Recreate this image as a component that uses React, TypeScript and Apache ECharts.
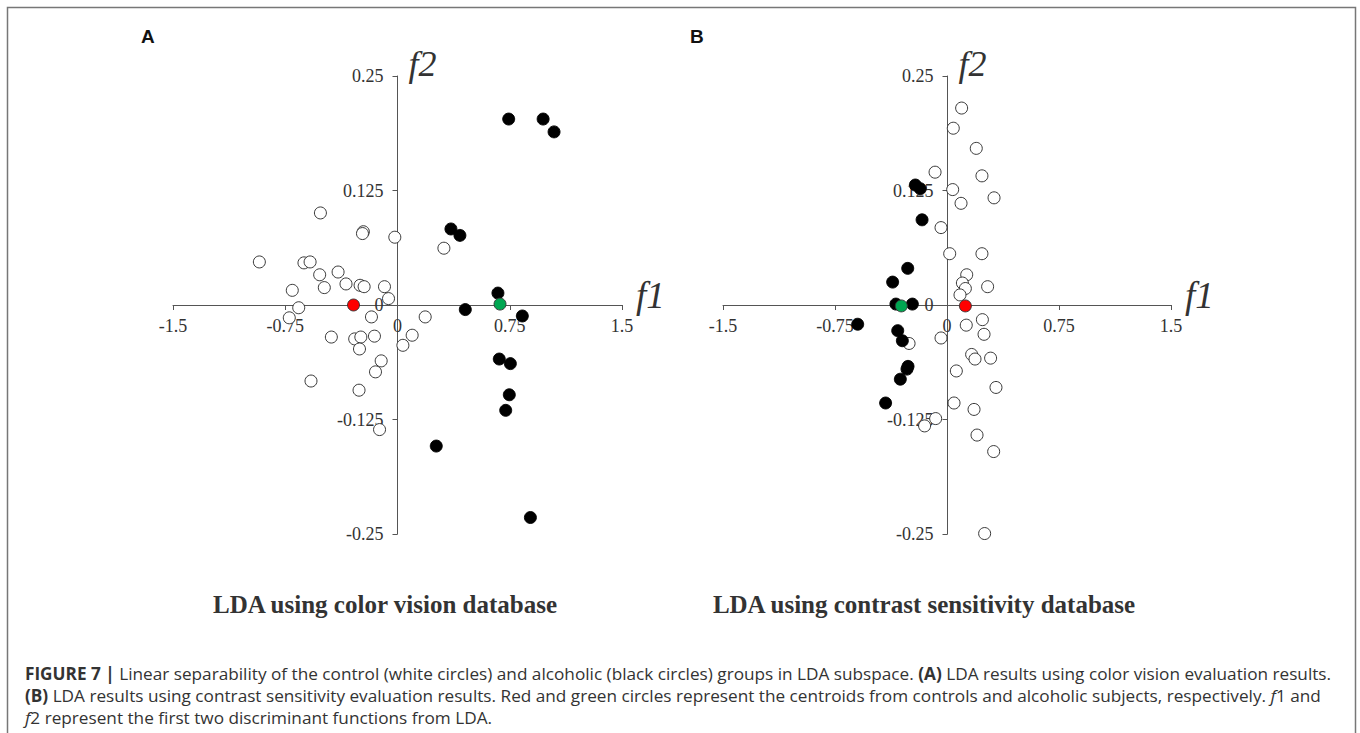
import React, { useEffect, useRef } from 'react';
import * as echarts from 'echarts';

// Panel A: LDA using color vision database
const controlA: [number, number][] = [
  [-0.515, 0.1005], [-0.228, 0.080], [-0.234, 0.078], [-0.018, 0.074], [0.310, 0.062],
  [-0.923, 0.047], [-0.625, 0.046], [-0.584, 0.047], [-0.520, 0.033], [-0.397, 0.036],
  [-0.344, 0.023], [-0.489, 0.019], [-0.703, 0.016], [-0.250, 0.0215], [-0.223, 0.020],
  [-0.087, 0.020], [-0.060, 0.007], [-0.660, -0.003], [-0.723, -0.014], [-0.174, -0.013],
  [0.185, -0.013], [-0.442, -0.035], [-0.286, -0.037], [-0.245, -0.035], [-0.154, -0.034],
  [0.098, -0.033], [0.036, -0.044], [-0.254, -0.048], [-0.109, -0.061], [-0.147, -0.073],
  [-0.578, -0.083], [-0.257, -0.093], [-0.120, -0.136],
];
const alcoholicA: [number, number][] = [
  [0.743, 0.203], [0.973, 0.203], [1.046, 0.189], [0.357, 0.083], [0.417, 0.076],
  [0.671, 0.013], [0.453, -0.005], [0.834, -0.012], [0.680, -0.059], [0.754, -0.064],
  [0.747, -0.098], [0.723, -0.115], [0.259, -0.154], [0.888, -0.232],
];
const centroidControlA: [number, number][] = [[-0.294, 0.0]];
const centroidAlcoholicA: [number, number][] = [[0.685, 0.001]];

// Panel B: LDA using contrast sensitivity database
const controlB: [number, number][] = [
  [0.098, 0.215], [0.042, 0.193], [0.196, 0.171], [-0.080, 0.145], [0.234, 0.141],
  [0.038, 0.126], [0.315, 0.117], [0.094, 0.111], [-0.040, 0.0845], [0.018, 0.056],
  [0.234, 0.056], [0.132, 0.033], [0.103, 0.024], [0.123, 0.018], [0.272, 0.020],
  [0.087, 0.011], [0.237, -0.016], [0.129, -0.022], [0.248, -0.032], [-0.040, -0.036],
  [-0.254, -0.042], [0.165, -0.054], [0.1875, -0.059], [0.292, -0.058], [0.0625, -0.072],
  [0.328, -0.090], [0.047, -0.107], [0.181, -0.114], [-0.076, -0.124], [-0.150, -0.132],
  [0.201, -0.142], [0.3125, -0.160], [0.252, -0.2495],
];
const alcoholicB: [number, number][] = [
  [-0.212, 0.131], [-0.179, 0.127], [-0.167, 0.093], [-0.263, 0.040], [-0.364, 0.025],
  [-0.342, 0.001], [-0.232, 0.001], [-0.598, -0.021], [-0.330, -0.028], [-0.299, -0.039],
  [-0.261, -0.067], [-0.268, -0.070], [-0.3125, -0.081], [-0.411, -0.107],
];
const centroidControlB: [number, number][] = [[0.123, -0.001]];
const centroidAlcoholicB: [number, number][] = [[-0.306, -0.001]];

const xMin = -1.5, xMax = 1.5, xStep = 0.75;
const yMin = -0.25, yMax = 0.25, yStep = 0.125;

const panelTitles = ['LDA using color vision database', 'LDA using contrast sensitivity database'];
const panelLetters = ['A', 'B'];

const SERIF = 'Liberation Serif, Times New Roman, serif';
const SANS = 'Liberation Sans, Arial, Helvetica, sans-serif';
const CAP = 'Open Sans, Liberation Sans, Arial, sans-serif';

const GRID_W = 449;
const GRID_H = 458;

function makeX(gridIndex: number) {
  // place the axis at y = 0
  const offset = -GRID_H * (0 - yMin) / (yMax - yMin);
  return {
    type: 'value',
    gridIndex,
    position: 'bottom',
    offset,
    min: xMin,
    max: xMax,
    interval: xStep,
    splitLine: { show: false },
    axisLine: { show: true, onZero: false, lineStyle: { color: '#555', width: 1 } },
    axisTick: { show: true, length: 5, lineStyle: { color: '#555', width: 1 } },
    axisLabel: {
      fontFamily: SERIF, fontSize: 18, color: '#333', margin: 12,
      hideOverlap: false, showMinLabel: true, showMaxLabel: true,
    },
    name: 'f1',
    nameLocation: 'end',
    nameGap: 14,
    nameMoveOverlap: false,
    nameTextStyle: {
      fontFamily: SERIF, fontStyle: 'italic', fontSize: 37, color: '#333',
      verticalAlign: 'bottom', lineHeight: 20,
    },
  };
}

function makeY(gridIndex: number) {
  const offset = -GRID_W * (0 - xMin) / (xMax - xMin);
  return {
    type: 'value',
    gridIndex,
    position: 'left',
    offset,
    min: yMin,
    max: yMax,
    interval: yStep,
    splitLine: { show: false },
    axisLine: { show: true, onZero: false, lineStyle: { color: '#555', width: 1 } },
    axisTick: { show: true, length: 5, lineStyle: { color: '#555', width: 1 } },
    axisLabel: {
      fontFamily: SERIF, fontSize: 18, color: '#333', margin: 14,
      hideOverlap: false, showMinLabel: true, showMaxLabel: true,
    },
    name: 'f2',
    nameLocation: 'end',
    nameGap: -6,
    nameMoveOverlap: false,
    nameTextStyle: {
      fontFamily: SERIF, fontStyle: 'italic', fontSize: 36, color: '#333',
      align: 'left', verticalAlign: 'bottom', padding: [0, 0, 0, 11],
    },
  };
}

function scatter(data: [number, number][], idx: number, fill: string, border: string, z: number) {
  return {
    type: 'scatter',
    xAxisIndex: idx,
    yAxisIndex: idx,
    data,
    symbol: 'circle',
    symbolSize: 12,
    z,
    itemStyle: { color: fill, borderColor: border, borderWidth: 0.9, opacity: 1 },
    emphasis: { disabled: true },
  };
}

const CAP_SIZE = 17.2;
const captionRich = {
  n: { fontFamily: CAP, fontSize: CAP_SIZE, color: '#333' },
  b: { fontFamily: CAP, fontSize: CAP_SIZE, color: '#222', fontWeight: 'bold' },
  i: { fontFamily: CAP, fontSize: CAP_SIZE, color: '#333', fontStyle: 'italic' },
};
const captionLines = [
  '{b|FIGURE 7 |}{n| Linear separability of the control (white circles) and alcoholic (black circles) groups in LDA subspace. }{b|(A)}{n| LDA results using color vision evaluation results.}',
  '{b|(B)}{n| LDA results using contrast sensitivity evaluation results. Red and green circles represent the centroids from controls and alcoholic subjects, respectively. }{i|f}{n|1 and}',
  '{i|f}{n|2 represent the first two discriminant functions from LDA.}',
];

export default function App() {
  const ref = useRef<HTMLDivElement>(null);
  useEffect(() => {
    if (!ref.current) return;
    const chart = echarts.init(ref.current, null, { renderer: 'svg' });
    const option: any = {
      animation: false,
      backgroundColor: '#ffffff',
      grid: [
        { left: 173, top: 76, width: GRID_W, height: GRID_H, outerBoundsMode: 'none', containLabel: false },
        { left: 723, top: 76, width: GRID_W - 1, height: GRID_H, outerBoundsMode: 'none', containLabel: false },
      ],
      xAxis: [makeX(0), makeX(1)],
      yAxis: [makeY(0), makeY(1)],
      series: [
        scatter(controlA, 0, '#ffffff', '#222', 2),
        scatter(alcoholicA, 0, '#000000', '#000', 3),
        scatter(centroidControlA, 0, '#ff0000', '#333', 4),
        scatter(centroidAlcoholicA, 0, '#00a651', '#333', 4),
        scatter(controlB, 1, '#ffffff', '#222', 2),
        scatter(alcoholicB, 1, '#000000', '#000', 3),
        scatter(centroidControlB, 1, '#ff0000', '#333', 4),
        scatter(centroidAlcoholicB, 1, '#00a651', '#333', 4),
      ],
      graphic: [
        {
          type: 'rect', silent: true, z: 0,
          shape: { x: 7.5, y: 7.5, width: 1348, height: 740 },
          style: { fill: 'none', stroke: '#777', lineWidth: 1.5 },
        },
        {
          type: 'text', left: 141, top: 27,
          style: { text: panelLetters[0], fontFamily: SANS, fontWeight: 'bold', fontSize: 19, fill: '#111' },
        },
        {
          type: 'text', left: 690, top: 27,
          style: { text: panelLetters[1], fontFamily: SANS, fontWeight: 'bold', fontSize: 19, fill: '#111' },
        },
        {
          type: 'text', x: 385, y: 604,
          style: { text: panelTitles[0], fontFamily: SERIF, fontWeight: 'bold', fontSize: 25, fill: '#333', align: 'center', verticalAlign: 'middle' },
        },
        {
          type: 'text', x: 924, y: 604,
          style: { text: panelTitles[1], fontFamily: SERIF, fontWeight: 'bold', fontSize: 25, fill: '#333', align: 'center', verticalAlign: 'middle' },
        },
        ...captionLines.map((t, i) => ({
          type: 'text', x: 25, y: 673 + i * 22,
          style: { text: t, rich: captionRich, fontFamily: CAP, fontSize: CAP_SIZE, fill: '#333', align: 'left', verticalAlign: 'middle' },
        })),
      ],
    };
    chart.setOption(option);
    return () => chart.dispose();
  }, []);
  return <div ref={ref} style={{ position: 'absolute', left: 0, top: 0, width: 1360, height: 733 }} />;
}
